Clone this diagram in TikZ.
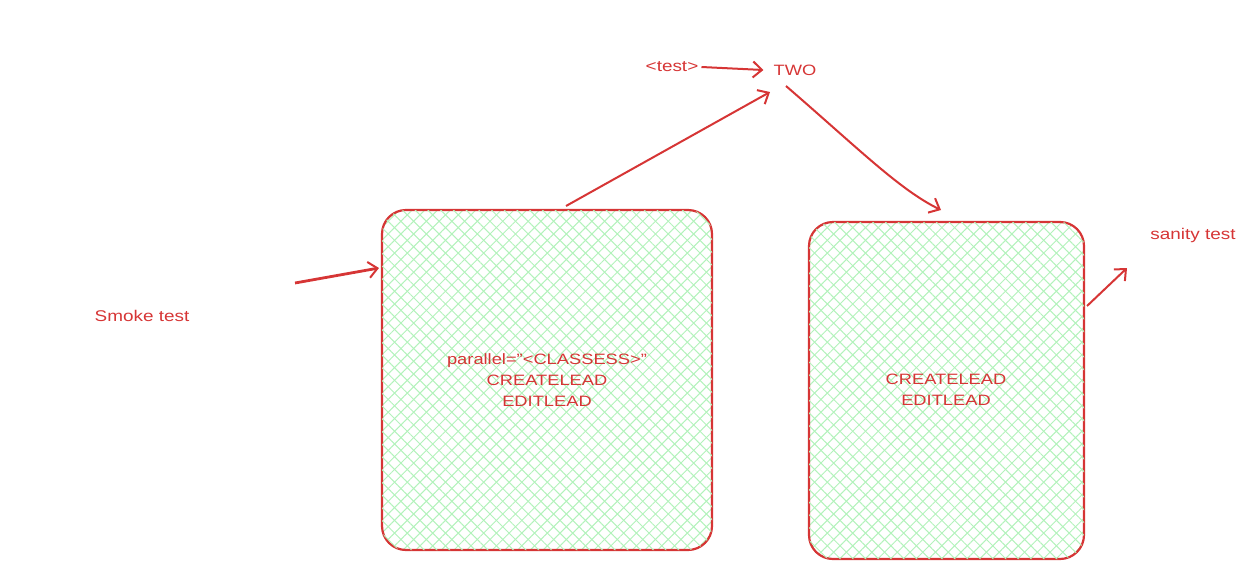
\documentclass[tikz,border=0pt]{standalone}
\usepackage{fontspec}
\setmainfont{Liberation Sans}[FakeStretch=1.22]
\usetikzlibrary{arrows.meta,patterns.meta}
\definecolor{exred}{HTML}{D63535}
\definecolor{exgreen}{HTML}{B2F2BB}
\tikzset{
  box/.style={draw=exred, line width=2.2pt, rounded corners=24pt,
    preaction={pattern={Lines[angle=45,distance=9pt,line width=1pt]}, pattern color=exgreen},
    postaction={pattern={Lines[angle=-45,distance=9pt,line width=1pt]}, pattern color=exgreen}},
  lbl/.style={text=exred, font=\fontsize{15}{21}\selectfont, align=center, inner sep=0pt},
  side/.style={lbl, font=\fontsize{15.5}{19}\selectfont},
  arr/.style={draw=exred, line width=2pt, -{Straight Barb[length=9pt,width=16pt,line width=2pt]}},
}
\begin{document}
\begin{tikzpicture}[x=1pt,y=-1pt]
\useasboundingbox (0,0) rectangle (1258,584);
\draw[box] (382,210) rectangle (712,550);
\draw[box] (809,222) rectangle (1084,559);
\coordinate (B1) at (547,380);
\coordinate (B2) at (946,390);
\node[lbl] (t1) at (B1) {parallel="<CLASSESS>"\\CREATELEAD\\EDITLEAD};
\node[lbl] (t2) at (B2) {CREATELEAD\\EDITLEAD};
\node[side] (test) at (672,67) {<test>};
\node[lbl, font=\fontsize{15}{20}\selectfont] (two) at (795,70) {TWO};
\node[side] (smoke) at (142,316) {Smoke test};
\node[side] (sanity) at (1193,235) {sanity test};
\coordinate (b1top) at (566,206);
\coordinate (b1left) at (379,268);
\coordinate (smokeA) at (295,283);
\coordinate (twoin) at (770,92);
\coordinate (twoout) at (786,86);
\coordinate (b2top) at (941,210);
\coordinate (b2right) at (1087,306);
\coordinate (sanityA) at (1127,268);
\draw[arr] ([xshift=3pt]test.east) -- ([xshift=-10pt]two.west);
\draw[arr] (b1top) -- (twoin);
\draw[arr] (twoout) .. controls (860,150) and (900,190) .. (b2top);
\draw[arr, line width=2.8pt] (smokeA) -- (b1left);
\draw[arr] (b2right) -- (sanityA);
\end{tikzpicture}
\end{document}
